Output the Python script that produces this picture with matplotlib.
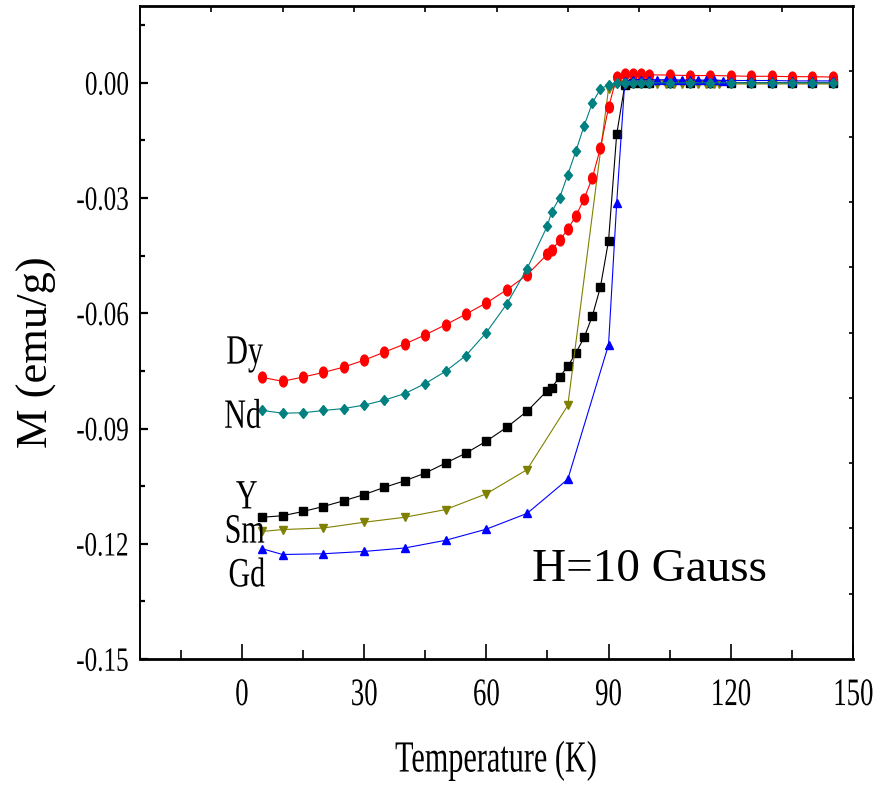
import numpy as np
import matplotlib
matplotlib.use("Agg")
import matplotlib.pyplot as plt
from matplotlib.markers import MarkerStyle
from matplotlib.transforms import Affine2D
from matplotlib.patheffects import AbstractPathEffect

plt.rcParams["font.family"] = ["Liberation Serif", "DejaVu Serif"]

# ---- data: magnetization M (emu/g) versus temperature T (K) ----
T_y = [5, 10, 15, 20, 25, 30, 35, 40, 45, 50, 55, 60, 65, 70, 75, 76, 78, 80, 82, 84,
       86, 88, 90, 92, 94, 96, 98, 100, 105, 110, 115, 120, 125, 130, 135, 140, 145]
M_y = [-0.1131, -0.1127, -0.1116, -0.1103, -0.1088, -0.1072, -0.1053, -0.1036, -0.1016,
       -0.0990, -0.0964, -0.0933, -0.0897, -0.0855, -0.0801, -0.0794, -0.0766, -0.0738,
       -0.0703, -0.0663, -0.0608, -0.0532, -0.0411, -0.0134, -0.0005, 0.0000, 0.0000,
       0.0000, 0.0000, 0.0000, 0.0000, 0.0000, 0.0000, 0.0000, 0.0000, 0.0000, 0.0000]

T_dy = [5, 10, 15, 20, 25, 30, 35, 40, 45, 50, 55, 60, 65, 70, 75, 76, 78, 80, 82, 84,
        86, 88, 90, 92, 94, 96, 98, 100, 105, 110, 115, 120, 125, 130, 135, 140, 145]
M_dy = [-0.0767, -0.0777, -0.0766, -0.0754, -0.0740, -0.0722, -0.0701, -0.0680, -0.0656,
        -0.0630, -0.0602, -0.0573, -0.0539, -0.0500, -0.0446, -0.0436, -0.0410, -0.0381,
        -0.0346, -0.0302, -0.0248, -0.0170, -0.0064, 0.0015, 0.0022, 0.0022, 0.0022,
        0.0021, 0.0020, 0.0019, 0.0019, 0.0018, 0.0017, 0.0017, 0.0016, 0.0016, 0.0015]

T_nd = [5, 10, 15, 20, 25, 30, 35, 40, 45, 50, 55, 60, 65, 70, 75, 76, 78, 80, 82, 84,
        86, 88, 90, 92, 94, 96, 98, 100, 105, 110, 115, 120, 125, 130, 135, 140, 145]
M_nd = [-0.0853, -0.0860, -0.0859, -0.0853, -0.0848, -0.0839, -0.0826, -0.0809, -0.0783,
        -0.0751, -0.0710, -0.0650, -0.0576, -0.0484, -0.0372, -0.0337, -0.0299, -0.0239,
        -0.0177, -0.0112, -0.0053, -0.0016, -0.0005, 0.0000, 0.0000, 0.0000, 0.0000,
        0.0000, 0.0000, 0.0000, 0.0000, 0.0000, 0.0000, 0.0000, 0.0000, 0.0000, 0.0000]

T_sm = [5, 10, 20, 30, 40, 50, 60, 70, 80, 90, 94, 96, 98, 100, 102, 104, 106, 108, 110,
        112, 114, 116, 117, 120, 125, 130, 135, 140, 145]
M_sm = [-0.1168, -0.1163, -0.1159, -0.1144, -0.1131, -0.1111, -0.1070, -0.1007, -0.0840,
        -0.0015, -0.0004, -0.0003, -0.0003, -0.0003, -0.0003, -0.0003, -0.0003, -0.0003,
        -0.0003, -0.0003, -0.0003, -0.0003, -0.0003, -0.0003, -0.0003, -0.0003, -0.0003,
        -0.0003, -0.0003]

T_gd = [5, 10, 20, 30, 40, 50, 60, 70, 80, 90, 92, 94, 96, 98, 100, 102, 104, 106, 108,
        110, 112, 114, 116, 118, 120, 125, 130, 135, 140, 145]
M_gd = [-0.1213, -0.1228, -0.1226, -0.1220, -0.1211, -0.1191, -0.1162, -0.1121, -0.1032,
        -0.0682, -0.0313, 0.0005, 0.0008, 0.0008, 0.0008, 0.0008, 0.0008, 0.0008, 0.0007,
        0.0007, 0.0007, 0.0007, 0.0007, 0.0006, 0.0006, 0.0006, 0.0006, 0.0005, 0.0005,
        0.0005]

x_major = [0, 30, 60, 90, 120, 150]
x_minor = [-15, 15, 45, 75, 105, 135]
x_labels = ["0", "30", "60", "90", "120", "150"]
y_major = [-0.15, -0.12, -0.09, -0.06, -0.03, 0.00]
y_minor = [-0.135, -0.105, -0.075, -0.045, -0.015, 0.015]
y_labels = ["-0.15", "-0.12", "-0.09", "-0.06", "-0.03", "0.00"]

sample_names = ["Dy", "Nd", "Y", "Sm", "Gd"]
name_pos = [(-3.9, -0.0731), (-4.4, -0.0898), (-1.5, -0.1108), (-4.4, -0.1197), (-3.4, -0.1311)]


class Narrow(AbstractPathEffect):
    """Compress glyph outlines horizontally about a pivot (0=left, 0.5=centre, 1=right)."""

    def __init__(self, factor, pivot=0.5):
        super().__init__()
        self.factor = factor
        self.pivot = pivot

    def draw_path(self, renderer, gc, tpath, affine, rgbFace=None):
        bb = tpath.get_extents(affine)
        px = bb.x0 + self.pivot * bb.width
        squeeze = Affine2D().translate(-px, 0).scale(self.factor, 1).translate(px, 0)
        renderer.draw_path(gc, tpath, affine + squeeze, rgbFace)


def slim(marker, sx):
    return MarkerStyle(marker, transform=Affine2D().scale(sx, 1))


fig = plt.figure(figsize=(8.82, 7.87), dpi=100)
ax = fig.add_axes([140 / 882, 128 / 787, 713 / 882, 653 / 787])

lw = 0.8
ax.plot(T_y, M_y, color="black", lw=lw, marker=slim("s", 0.85), ms=6.0, zorder=3)
ax.plot(T_sm, M_sm, color="#808000", lw=lw, marker=slim("v", 0.9), ms=6.0, zorder=3)
ax.plot(T_dy, M_dy, color="#ff0000", lw=lw, marker=slim("o", 0.72), ms=7.8, zorder=3)
ax.plot(T_gd, M_gd, color="#0000ff", lw=lw, marker=slim("^", 0.9), ms=6.0, zorder=3)
ax.plot(T_nd, M_nd, color="#008080", lw=lw, marker=slim("D", 0.72), ms=5.2, zorder=3)

ax.set_xlim(-25, 150)
ax.set_ylim(-0.15, 0.02)

ax.set_xticks(x_major)
ax.set_xticks(x_minor, minor=True)
ax.set_xticklabels(x_labels)
ax.set_yticks(y_major)
ax.set_yticks(y_minor, minor=True)
ax.set_yticklabels(y_labels)

ax.tick_params(axis="x", which="major", direction="in", length=10.5, width=1.2,
               labelsize=28, pad=13)
ax.tick_params(axis="x", which="minor", direction="in", length=6.5, width=1.2)
ax.tick_params(axis="y", which="major", direction="in", length=5.5, width=1.6,
               labelsize=24.5, pad=8)
ax.tick_params(axis="y", which="minor", direction="in", length=3.5, width=1.6)

for lbl in ax.get_xticklabels():
    lbl.set_path_effects([Narrow(0.69, 0.5)])
for lbl in ax.get_yticklabels():
    lbl.set_path_effects([Narrow(0.74, 1.0)])

for side in ("top", "bottom"):
    ax.spines[side].set_linewidth(2.0)
for side in ("left", "right"):
    ax.spines[side].set_linewidth(1.4)

ax.set_xlabel("Temperature (K)", fontsize=32)
ax.xaxis.set_label_coords(0.5, -0.125)
ax.xaxis.label.set_path_effects([Narrow(0.68, 0.5)])
ax.set_ylabel("M (emu/g)", fontsize=32)
ax.yaxis.set_label_coords(-0.117, 0.47)

for name, (tx, ty) in zip(sample_names, name_pos):
    ax.text(tx, ty, name, fontsize=30, ha="left", va="baseline",
            path_effects=[Narrow(0.72, 0.0)], zorder=4)

ax.text(71.3, -0.1298, "H=10 Gauss", fontsize=34, ha="left", va="baseline")

# evenly spaced ticks along the top and right frame
axt = ax.twiny()
axt.set_xlim(0, 1)
axt.set_xticks(np.arange(1, 10) / 10)
axt.tick_params(axis="x", direction="in", length=4, width=1.2, labeltop=False)
axr = ax.twinx()
axr.set_ylim(0, 1)
axr.set_yticks(np.arange(1, 10) / 10)
axr.tick_params(axis="y", direction="in", length=3, width=1.2, labelright=False)
for extra in (axt, axr):
    for s in extra.spines.values():
        s.set_visible(False)

fig.savefig("out.png", dpi=100)
